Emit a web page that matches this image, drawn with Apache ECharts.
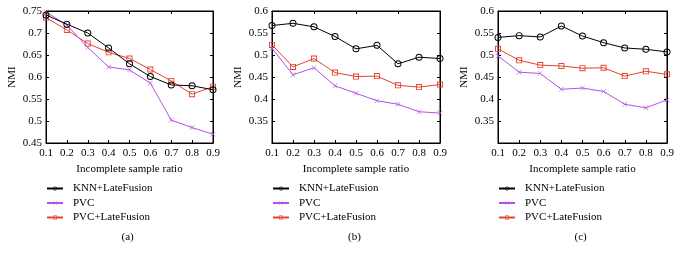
<!DOCTYPE html>
<html lang="en">
<head>
    <meta charset="UTF-8">
    <title>NMI vs incomplete sample ratio</title>
    <script src="https://cdn.jsdelivr.net/npm/echarts@6/dist/echarts.min.js"></script>
</head>
<style>
    body{
        margin: 0;
        padding: 0;
        background: #fff;
    }
</style>
<body>
<div id="main" style="width: 679px;height:260px;"></div>
<script>
    // x categories (incomplete sample ratio)
    var ratios = ['0.1', '0.2', '0.3', '0.4', '0.5', '0.6', '0.7', '0.8', '0.9'];
    var seriesNames = ['KNN+LateFusion', 'PVC', 'PVC+LateFusion'];
    var panelLabels = ['(a)', '(b)', '(c)'];

    // panel (a)
    var knnA = [0.741, 0.720, 0.700, 0.666, 0.630, 0.601, 0.582, 0.580, 0.571];
    var pvcA = [0.748, 0.718, 0.667, 0.623, 0.616, 0.586, 0.502, 0.485, 0.470];
    var pvclfA = [0.735, 0.707, 0.676, 0.656, 0.642, 0.617, 0.591, 0.561, 0.578];
    // panel (b)
    var knnB = [0.567, 0.572, 0.564, 0.542, 0.514, 0.522, 0.480, 0.495, 0.492];
    var pvcB = [0.515, 0.455, 0.471, 0.430, 0.413, 0.396, 0.388, 0.371, 0.368];
    var pvclfB = [0.523, 0.473, 0.492, 0.460, 0.451, 0.452, 0.431, 0.427, 0.433];
    // panel (c)
    var knnC = [0.540, 0.544, 0.541, 0.566, 0.543, 0.528, 0.516, 0.513, 0.507];
    var pvcC = [0.498, 0.461, 0.458, 0.422, 0.425, 0.417, 0.388, 0.380, 0.398];
    var pvclfC = [0.514, 0.488, 0.477, 0.475, 0.470, 0.471, 0.452, 0.463, 0.456];

    // y ranges
    var yMin = [0.45, 0.3, 0.3];
    var yMax = [0.75, 0.6, 0.6];

    var panels = [
        [knnA, pvcA, pvclfA],
        [knnB, pvcB, pvclfB],
        [knnC, pvcC, pvclfC]
    ];

    var font = 'Liberation Serif';
    var colors = ['#000000', '#b94fe4', '#e4432e'];
    // thin outline markers drawn as filled rings so strokes stay hairline
    var ringPath = 'path://M5,0A5,5,0,1,1,4.99,0ZM5,1.4A3.6,3.6,0,1,0,5.01,1.4Z';
    var crossPath = 'path://M0,0.7L0.7,0L5,4.3L9.3,0L10,0.7L5.7,5L10,9.3L9.3,10L5,5.7L0.7,10L0,9.3L4.3,5Z';
    var boxPath = 'path://M0,0H10V10H0ZM1.5,1.5V8.5H8.5V1.5Z';
    var symbols = [ringPath, crossPath, boxPath];
    var symbolSizes = [7, 5, 6];

    var gridLeft = [46, 272, 498];
    var gridWidth = [167, 168, 169];

    var grids = [], xAxes = [], yAxes = [], series = [], legends = [], graphics = [];

    for (var p = 0; p < 3; p++) {
        grids.push({
            left: gridLeft[p], top: 11, width: gridWidth[p], height: 132,
            show: true, borderColor: '#000', borderWidth: 1, backgroundColor: '#fff'
        });
        // bottom x axis
        xAxes.push({
            type: 'category', gridIndex: p, data: ratios, boundaryGap: false,
            name: 'Incomplete sample ratio', nameLocation: 'middle', nameGap: 19,
            nameTextStyle: {fontFamily: font, fontSize: 11, color: '#000'},
            axisLine: {lineStyle: {color: '#000', width: 1}},
            axisTick: {inside: true, length: 3, lineStyle: {color: '#000'}},
            axisLabel: {fontFamily: font, fontSize: 11, color: '#000', margin: 5},
            splitLine: {show: false}
        });
        // top mirror axis (ticks only)
        xAxes.push({
            type: 'category', gridIndex: p, data: ratios, boundaryGap: false, position: 'top',
            axisLine: {lineStyle: {color: '#000'}},
            axisTick: {inside: true, length: 3, lineStyle: {color: '#000'}},
            axisLabel: {show: false}, splitLine: {show: false}
        });
        yAxes.push({
            type: 'value', gridIndex: p, min: yMin[p], max: yMax[p], interval: 0.05,
            name: 'NMI', nameLocation: 'middle', nameGap: 28,
            nameTextStyle: {fontFamily: font, fontSize: 11, color: '#000'},
            axisLine: {show: true, lineStyle: {color: '#000'}},
            axisTick: {show: true, inside: true, length: 3, lineStyle: {color: '#000'}},
            axisLabel: {
                fontFamily: font, fontSize: 11, color: '#000', margin: 4,
                showMinLabel: p === 0,
                formatter: function (v) { return String(+v.toFixed(2)); }
            },
            splitLine: {show: false}
        });
        yAxes.push({
            type: 'value', gridIndex: p, min: yMin[p], max: yMax[p], interval: 0.05, position: 'right',
            axisLine: {show: true, lineStyle: {color: '#000'}},
            axisTick: {show: true, inside: true, length: 3, lineStyle: {color: '#000'}},
            axisLabel: {show: false}, splitLine: {show: false}
        });

        var names = [];
        for (var s = 0; s < 3; s++) {
            var nm = seriesNames[s] + (p > 0 ? ' ' + panelLabels[p] : '');
            names.push(nm);
            series.push({
                name: nm, type: 'line', xAxisIndex: p * 2, yAxisIndex: p * 2,
                data: panels[p][s],
                symbol: symbols[s], symbolSize: symbolSizes[s],
                showAllSymbol: true,
                lineStyle: {color: colors[s], width: 1},
                itemStyle: {color: colors[s], borderWidth: 0},
                z: 3 - s,
                animation: false
            });
        }
        legends.push({
            orient: 'vertical', left: gridLeft[p], top: 183, padding: 0,
            data: names,
            formatter: function (n) { return n.replace(/ \(.\)$/, ''); },
            itemWidth: 16, itemHeight: 5, itemGap: 3.5,
            textStyle: {fontFamily: font, fontSize: 11, color: '#000', padding: [0, 0, 0, 5]},
            selectedMode: false
        });
        graphics.push({
            type: 'text', left: gridLeft[p] + gridWidth[p] / 2 - 8, top: 232,
            style: {text: panelLabels[p], font: '11px "Liberation Serif"', fill: '#000'}
        });
    }

    var chart = echarts.init(document.getElementById('main'));
    chart.setOption({
        backgroundColor: '#fff',
        animation: false,
        grid: grids,
        xAxis: xAxes,
        yAxis: yAxes,
        legend: legends,
        series: series,
        graphic: graphics
    });
</script>
</body>
</html>
